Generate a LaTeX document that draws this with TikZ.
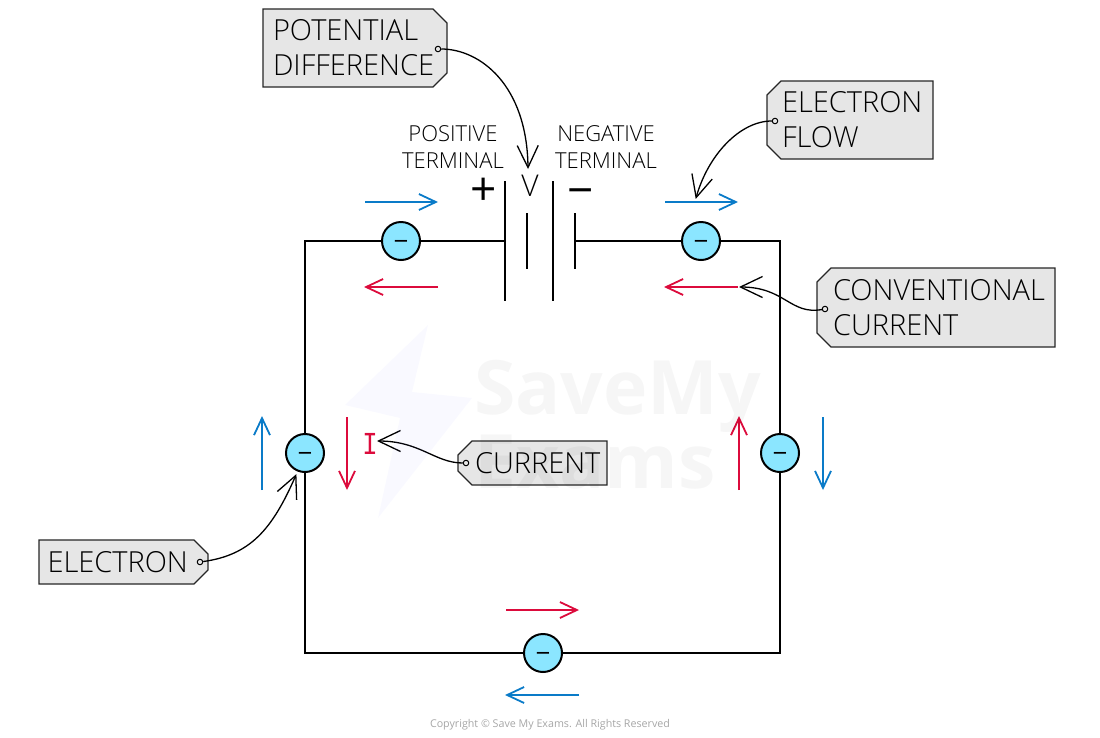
\documentclass[tikz,border=0pt]{standalone}
\usepackage{fontspec}
\setmainfont{Open Sans}[UprightFont=* Light]
\setmonofont{Liberation Mono}
\newfontfamily\wmfont{Open Sans}[UprightFont=* Bold]
\newfontfamily\crfont{Open Sans}
\usetikzlibrary{arrows.meta,shapes.misc}
\definecolor{eblue}{HTML}{0A7BC8}
\definecolor{cred}{HTML}{DC0B3C}
\definecolor{efill}{HTML}{8BE6FF}
\definecolor{tagfill}{HTML}{E6E6E6}
\tikzset{
  tagbox/.style={chamfered rectangle,chamfered rectangle xsep=7pt,chamfered rectangle ysep=7pt,
    draw=black!85,line width=1.1pt,fill=tagfill,inner xsep=0pt,inner ysep=0pt,outer sep=0pt,align=left,
    font=\fontsize{29}{35}\selectfont},
  rightcut/.style={chamfered rectangle corners={north east,south east}},
  leftcut/.style={chamfered rectangle corners={north west,south west}},
  electron/.style={circle,draw=black,line width=2pt,fill=efill,minimum size=38pt,inner sep=0pt,
    font=\fontsize{26}{26}\crfont},
  wire/.style={line width=2pt,line cap=round,line join=miter},
  plate/.style={line width=2pt},
  flow/.style={line width=1.8pt,shorten >=-1pt,-{Straight Barb[length=17pt,width=16pt,line width=1.8pt]}},
  callout/.style={line width=1.3pt,black,shorten >=-1pt,-{Straight Barb[length=22pt,width=21pt,line width=1.3pt]}},
  dot/.style={circle,draw=black,line width=1pt,fill=tagfill,minimum size=5.5pt,inner sep=0pt},
  small/.style={font=\fontsize{22}{27}\selectfont,align=center,inner sep=0pt},
  sign/.style={inner sep=0pt},
  wm/.style={anchor=west,inner sep=0pt,text=black,text opacity=0.035,font=\fontsize{75}{75}\wmfont}
}
\newcommand{\elbar}{\raisebox{-9.4pt}[0pt][0pt]{−}}
\begin{document}
\begin{tikzpicture}[x=1pt,y=-1pt]
\useasboundingbox (0,0) rectangle (1100,737);
% circuit
\coordinate (p1) at (505,241);
\coordinate (p4) at (575,241);
\coordinate (tl) at (305,241);
\coordinate (tr) at (780,241);
\coordinate (bl) at (305,653);
\coordinate (br) at (780,653);
\draw[wire] (p1) -- (tl) -- (bl) -- (br) -- (tr) -- (p4);
\coordinate (a1) at (505,181); \coordinate (a2) at (505,301);
\coordinate (b1) at (527,213); \coordinate (b2) at (527,269);
\coordinate (c1) at (553,181); \coordinate (c2) at (553,301);
\coordinate (d1) at (575,213); \coordinate (d2) at (575,269);
\draw[plate] (a1)--(a2); \draw[plate] (b1)--(b2); \draw[plate] (c1)--(c2); \draw[plate] (d1)--(d2);
% electrons
\node[electron] (e1) at (401,241) {\elbar};
\node[electron] (e2) at (701,241) {\elbar};
\node[electron] (e3) at (305,453) {\elbar};
\node[electron] (e4) at (780,453) {\elbar};
\node[electron] (e5) at (543,653) {\elbar};
% flow arrows
\foreach \n/\xa/\ya/\xb/\yb/\c in {f1/365/202/437/202/eblue,f2/665/202/737/202/eblue,
  f3/438/287/365/287/cred,f4/738/287/665/287/cred,
  f5/262/490/262/417/eblue,f6/347/417/347/489/cred,
  f7/739/490/739/417/cred,f8/823/417/823/489/eblue,
  f9/506/610/578/610/cred,f10/579/695/506/695/eblue}{
  \coordinate (\n s) at (\xa,\ya);
  \coordinate (\n e) at (\xb,\yb);
  \draw[flow,\c] (\n s) -- (\n e);
}
% labels
\node[small] (pos) at (453,147.5) {POSITIVE\\TERMINAL};
\node[small] (neg) at (606,147.5) {NEGATIVE\\TERMINAL};
\node[sign,font=\fontsize{46}{46}\crfont] (plus) at (484,192) {+};
\node[sign,font=\fontsize{46}{46}\crfont] (minus) at (581,190) {\raisebox{-16.6pt}[0pt][0pt]{−}};
\node[sign,font=\fontsize{30}{30}\selectfont] (v) at (530,186) {V};
\node[sign,text=cred,font=\fontsize{32}{32}\ttfamily\selectfont] (ilabel) at (370,444) {\scalebox{0.8}[1]{I}};
% tags
\node[tagbox,rightcut,minimum width=184pt,minimum height=78pt,text width=164pt] (pd) at (355,48) {\mbox{POTENTIAL}\\\mbox{DIFFERENCE}};
\node[tagbox,leftcut,minimum width=166pt,minimum height=78pt,text width=142pt] (ef) at (850,120) {\hspace*{3pt}\mbox{ELECTRON}\\\hspace*{3pt}\mbox{FLOW}};
\node[tagbox,leftcut,minimum width=238pt,minimum height=79pt,text width=214pt] (cc) at (936,307.5) {\hspace*{4pt}\mbox{CONVENTIONAL}\\\hspace*{4pt}\mbox{CURRENT}};
\node[tagbox,leftcut,minimum width=149pt,minimum height=44pt,text width=131pt] (cu) at (532.5,463) {\hspace*{8pt}\mbox{CURRENT}};
\node[tagbox,rightcut,minimum width=169pt,minimum height=44pt,text width=152pt] (el) at (123.5,562) {\mbox{ELECTRON}};
% dots
\node[dot] (dpd) at (438,49) {};
\node[dot] (def) at (775,121) {};
\node[dot] (dcc) at (825,309) {};
\node[dot] (dcu) at (466,463) {};
\node[dot] (del) at (200,562) {};
% callout ends
\coordinate (tv) at (528,168);
\coordinate (tf) at (696,198);
\coordinate (tc) at (740,287);
\coordinate (ti) at (378,441);
\coordinate (te) at (296,475);
\draw[callout] (dpd) .. controls (480,49) and (527,85) .. (tv);
\draw[callout] (def) .. controls (740,121) and (708,155) .. (tf);
\draw[callout] (dcc) .. controls (790,315) and (785,287) .. (tc);
\draw[callout] (dcu) .. controls (435,463) and (420,441) .. (ti);
\draw[callout] (del) .. controls (250,555) and (272,530) .. (te);
% watermark
\fill[blue!60!white,opacity=0.04] (428,325) -- (345,405) -- (400,418) -- (378,518) -- (472,398) -- (412,392) -- cycle;
\node[wm] (wm1) at (474,396) {SaveMy};
\node[wm] (wm2) at (474,462) {Exams};
% copyright
\node[inner sep=0pt,text=black!35,font=\fontsize{10.7}{12}\crfont] (copy) at (550,724.5) {Copyright © Save My Exams. All Rights Reserved};
\end{tikzpicture}
\end{document}
